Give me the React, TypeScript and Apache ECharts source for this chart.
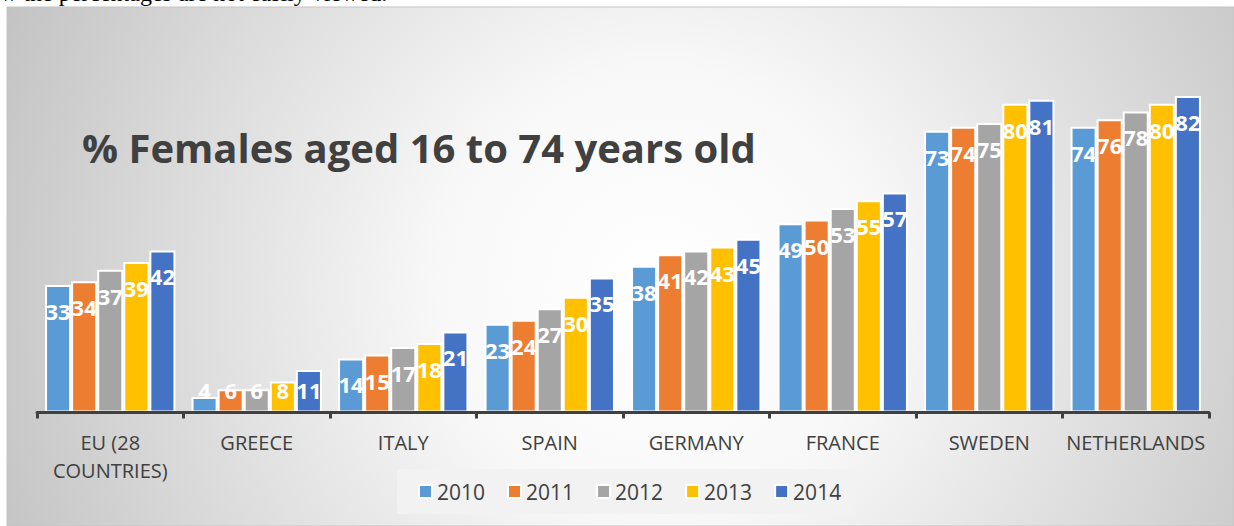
import React, { useEffect, useRef } from "react";
import * as echarts from "echarts";

const categories = ["EU (28\nCOUNTRIES)", "GREECE", "ITALY", "SPAIN", "GERMANY", "FRANCE", "SWEDEN", "NETHERLANDS"];
const years = ["2010", "2011", "2012", "2013", "2014"];
const v2010 = [33, 4, 14, 23, 38, 49, 73, 74];
const v2011 = [34, 6, 15, 24, 41, 50, 74, 76];
const v2012 = [37, 6, 17, 27, 42, 53, 75, 78];
const v2013 = [39, 8, 18, 30, 43, 55, 80, 80];
const v2014 = [42, 11, 21, 35, 45, 57, 81, 82];
const seriesValues = [v2010, v2011, v2012, v2013, v2014];
const colors = ["#5B9BD5", "#ED7D31", "#A5A5A5", "#FFC000", "#4472C4"];

const titleText = "% Females aged 16 to 74 years old";
const topText = "w the percentages are not easily viewed.";

export default function App() {
  const ref = useRef<HTMLDivElement>(null);
  useEffect(() => {
    if (!ref.current) return;
    const chart = echarts.init(ref.current, null, { renderer: "svg" });
    const font = "'Open Sans', sans-serif";
    const option: any = {
      animation: false,
      backgroundColor: "#ffffff",
      textStyle: { fontFamily: font },
      graphic: [
        {
          type: "rect",
          z: -10,
          silent: true,
          shape: { x: 7, y: 7, width: 1227, height: 519 },
          style: {
            fill: {
              type: "radial",
              x: 660,
              y: 290,
              r: 740,
              global: true,
              colorStops: [
                { offset: 0, color: "#ffffff" },
                { offset: 0.3, color: "#f8f8f8" },
                { offset: 1, color: "#c0c0c0" },
              ],
            },
            stroke: "#c4c4c4",
            lineWidth: 1,
          },
        },
        {
          type: "text",
          x: 0,
          y: -7,
          z: 10,
          silent: true,
          style: {
            text: topText,
            fontFamily: "'Liberation Serif', serif",
            fontSize: 24,
            fill: "#000000",
            textVerticalAlign: "middle",
          },
        },
        {
          type: "text",
          x: 82,
          y: 147,
          z: 10,
          silent: true,
          style: {
            text: titleText,
            fontFamily: font,
            fontWeight: "bold",
            fontSize: 40,
            fill: "#404040",
            textVerticalAlign: "middle",
          },
        },
      ],
      legend: {
        data: years,
        left: 397,
        top: 469,
        orient: "horizontal",
        backgroundColor: "#f2f2f2",
        padding: [12, 14, 12, 21],
        itemWidth: 13,
        itemHeight: 13,
        itemGap: 22,
        icon: "rect",
        textStyle: { fontFamily: font, fontSize: 21, color: "#404040" },
      },
      grid: { left: 37, right: 25, top: 26.5, bottom: 113.5, containLabel: false },
      xAxis: {
        type: "category",
        data: categories,
        z: 5,
        axisLine: { show: true, lineStyle: { color: "#404040", width: 3 } },
        axisTick: { show: true, length: 6, lineStyle: { color: "#404040", width: 3 } },
        axisLabel: { fontFamily: font, fontSize: 20, lineHeight: 28, color: "#404040", margin: 15.5, interval: 0 },
      },
      yAxis: { type: "value", min: 0, max: 100, show: false, splitLine: { show: false } },
      series: seriesValues.map((vals, i) => ({
        name: years[i],
        type: "bar",
        barGap: "0%",
        barCategoryGap: "11%",
        itemStyle: { color: colors[i], borderColor: "#ffffff", borderWidth: 2 },
        label: {
          show: true,
          position: "insideTop",
          distance: 15,
          color: "#ffffff",
          fontFamily: font,
          fontWeight: "bold",
          fontSize: 22,
        },
        data: vals.map((v) =>
          v < 13 ? { value: v, label: { position: "insideBottom", distance: 12 } } : v
        ),
      })),
    };
    chart.setOption(option);
    return () => chart.dispose();
  }, []);
  return (
    <div
      ref={ref}
      style={{ position: "absolute", left: 0, top: 0, width: 1234, height: 526 }}
    />
  );
}
